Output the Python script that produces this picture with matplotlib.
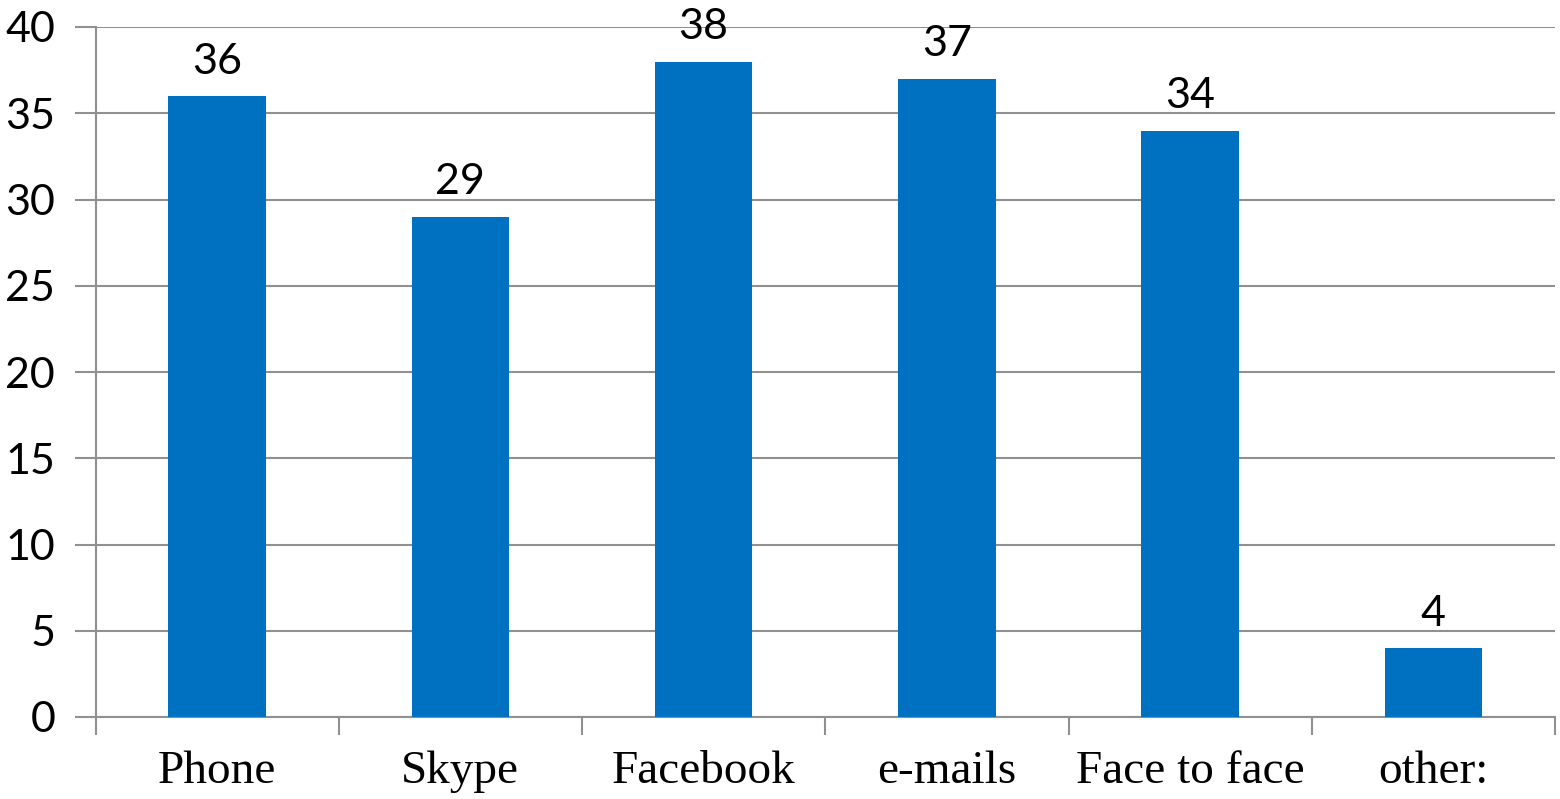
import matplotlib
matplotlib.use("Agg")
import matplotlib.pyplot as plt
import numpy as np

categories = ["Phone", "Skype", "Facebook", "e-mails", "Face to face", "other:"]
values = [36, 29, 38, 37, 34, 4]
yticks = [0, 5, 10, 15, 20, 25, 30, 35, 40]

W, H = 1560, 799
fig = plt.figure(figsize=(W / 100, H / 100), dpi=100)
ax = fig.add_axes([95.5 / W, 82 / H, (1555 - 95.5) / W, (717 - 27) / H])

grid_c = "#909090"
x = np.arange(len(categories))
ax.bar(x, values, width=0.4, color="#0070C0", zorder=3)
ax.set_xlim(-0.5, len(categories) - 0.5)
ax.set_ylim(0, 40)

ax.set_yticks(yticks)
ax.set_yticklabels([str(v) for v in yticks], family="Lato", fontsize=31)
ax.yaxis.grid(True, color=grid_c, linewidth=1.5, zorder=0)
ax.tick_params(axis="y", length=15, width=1.5, color=grid_c, pad=14)

# category labels at centres, tick marks at boundaries
ax.set_xticks(x)
ax.set_xticklabels(categories, family="Liberation Serif", fontsize=34)
ax.tick_params(axis="x", which="major", length=0, pad=24)
ax.set_xticks(np.arange(len(categories) + 1) - 0.5, minor=True)
ax.tick_params(axis="x", which="minor", length=13, width=1.5, color=grid_c)

for s in ["top", "right"]:
    ax.spines[s].set_visible(False)
for s in ["left", "bottom"]:
    ax.spines[s].set_color(grid_c)
    ax.spines[s].set_linewidth(1.5)

for xi, v in zip(x, values):
    ax.annotate(str(v), (xi, v), xytext=(0, 11), textcoords="offset points",
                ha="center", va="bottom", family="Lato", fontsize=31, clip_on=False)

fig.savefig("out.png", dpi=100)
